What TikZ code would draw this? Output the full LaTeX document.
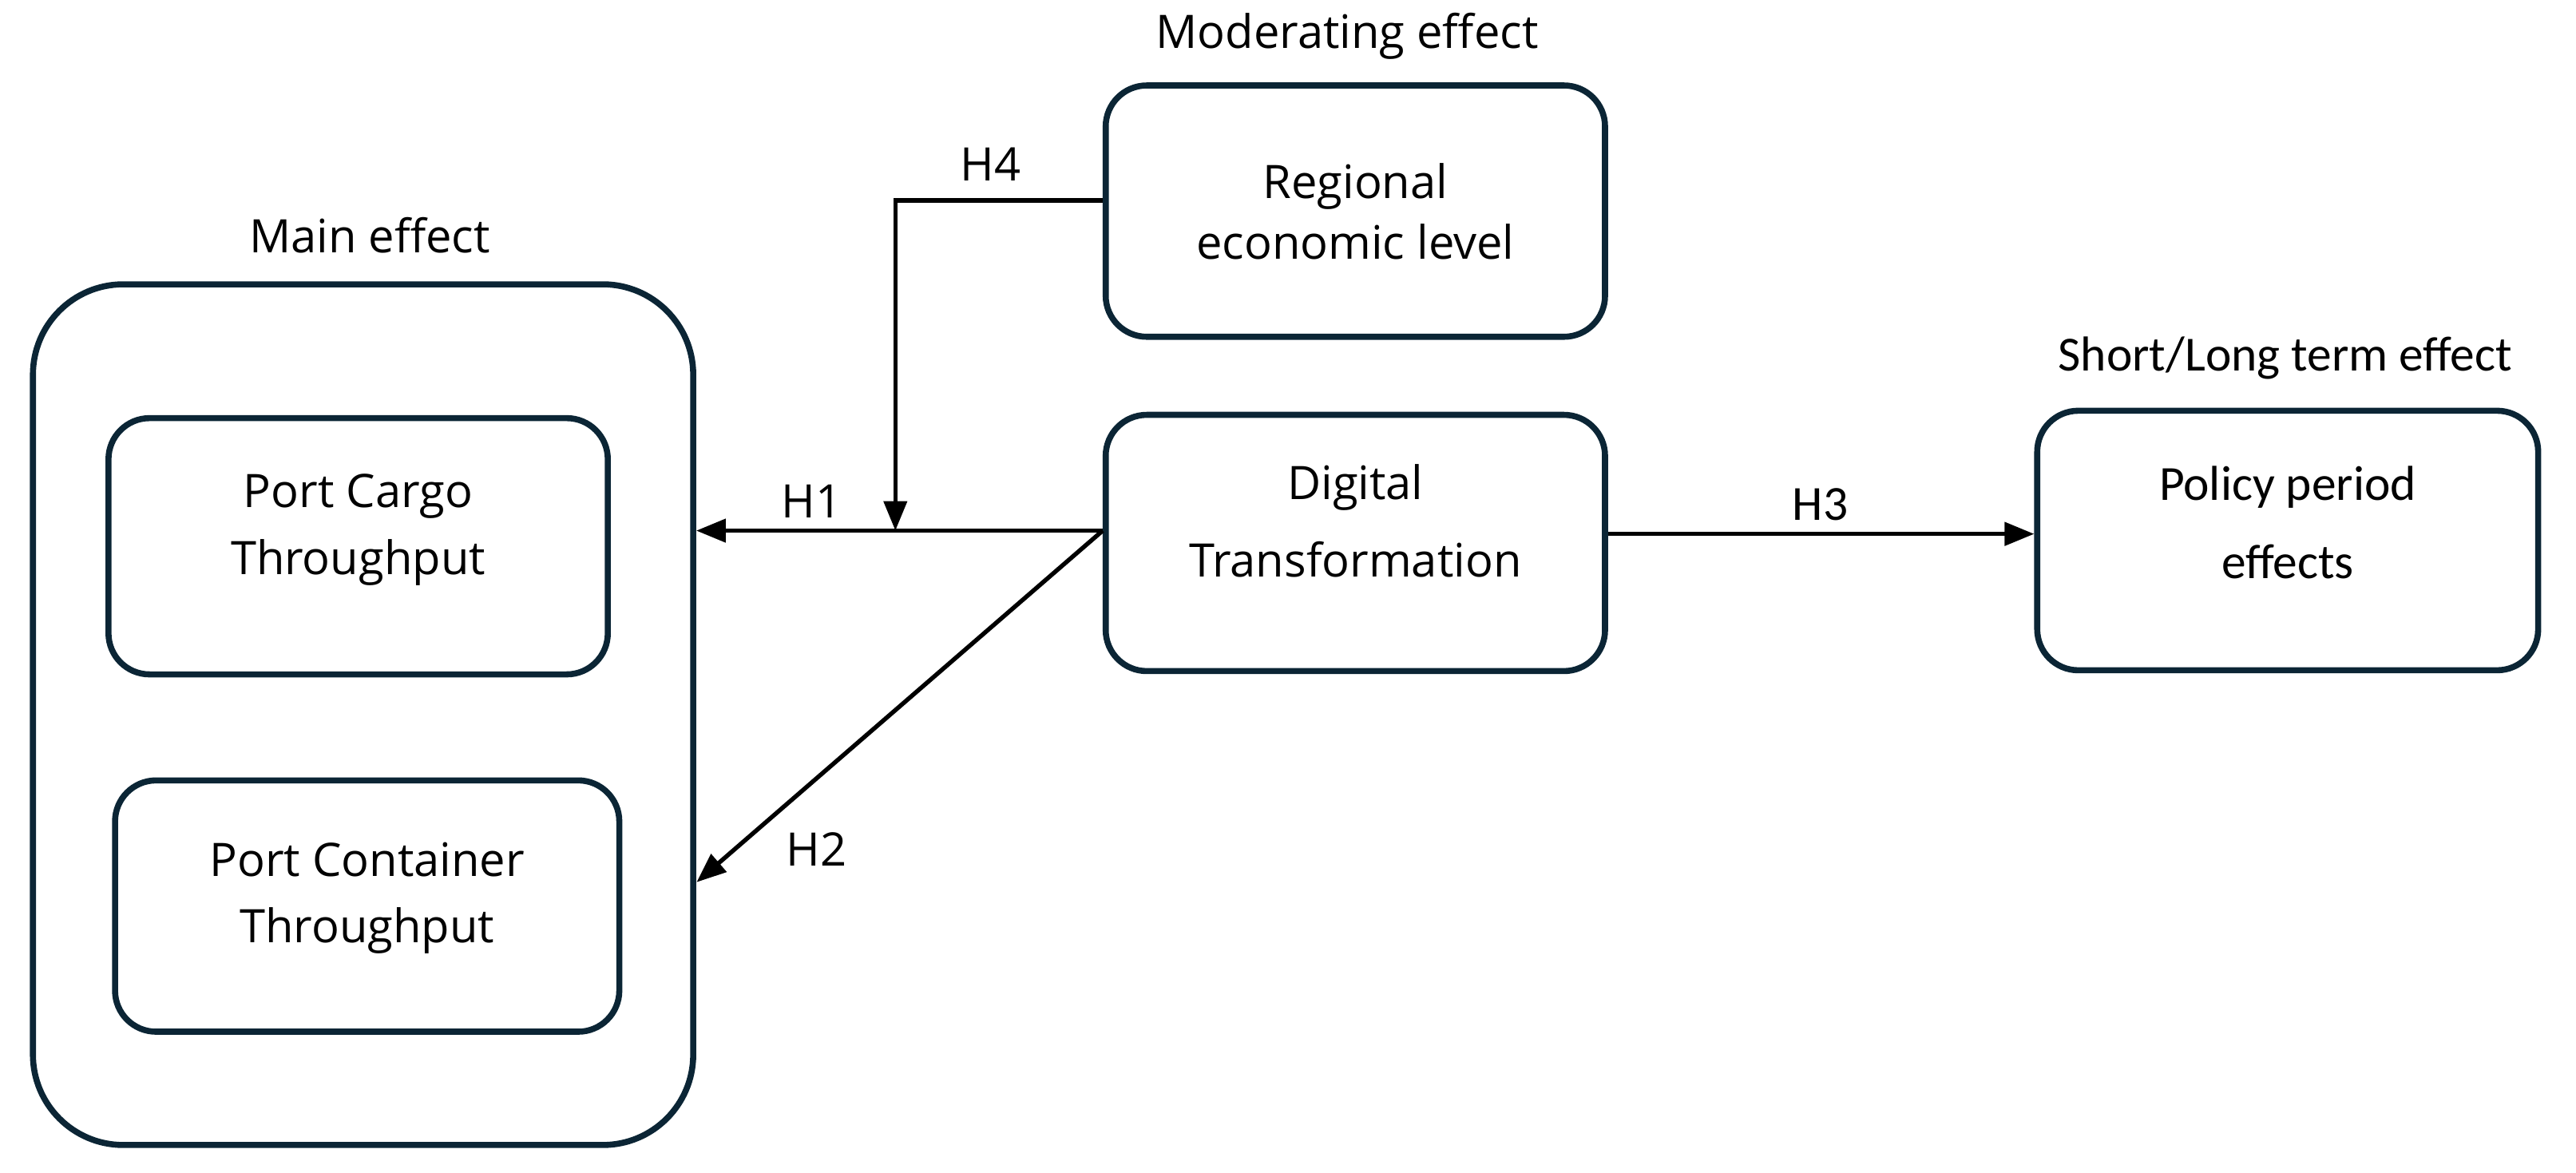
\documentclass[tikz,border=0pt]{standalone}
\usepackage{fontspec}
\setmainfont{Open Sans}
\newfontfamily\narrowfont{Carlito}
\usepackage{tikz}
\usetikzlibrary{positioning,arrows.meta}
\definecolor{boxline}{HTML}{0B2535}

\tikzset{
  box/.style={draw=boxline, line width=2.1pt, rounded corners=0.5cm, minimum width=6.08cm, minimum height=3.12cm},
  grp/.style={draw=boxline, line width=2.1pt, rounded corners=1.1cm, minimum width=8.04cm, minimum height=10.48cm},
  boxtext/.style={align=center, font=\fontsize{16}{23}\selectfont},
  efflbl/.style={font=\fontsize{16}{20}\selectfont},
  hyplbl/.style={font=\fontsize{16}{20}\selectfont},
  hyp/.style={-{Triangle[length=0.36cm,width=0.28cm]}, line width=1.5pt}
}

\begin{document}
\begin{tikzpicture}[x=0.02cm,y=-0.02cm]
\useasboundingbox (0,0) rectangle (1568,714);
% main effect group
\node[grp] (outer) at (221,435) {};
\node[box] (cargo) at (218,332.5) {};
\node[boxtext] (cargo-t) at ([yshift=0.2cm]cargo.center) {Port Cargo\\Throughput};
\node[box,minimum width=6.14cm,minimum height=3.06cm] (cont) at (223.5,551.5) {};
\node[boxtext] (cont-t) at ([yshift=0.1cm]cont.center) {Port Container\\Throughput};
\node[efflbl] (main-l) at (225,143) {Main effect};
% moderator
\node[box,minimum height=3.06cm] (reg) at (825,128.5) {};
\node[boxtext,font=\fontsize{16}{21}\selectfont] (reg-t) at (reg.center) {Regional\\economic level};
\node[efflbl] (mod-l) at (820,22) {Moderating effect};
% digital transformation
\node[box] (dt) at (825,330.5) {};
\node[boxtext,font=\fontsize{16}{27}\selectfont] (dt-t) at ([yshift=0.27cm]dt.center) {Digital\\Transformation};
% policy
\node[box,minimum width=6.1cm,minimum height=3.16cm] (pol) at (1392.5,329) {};
\node[boxtext,font=\narrowfont\fontsize{17}{27}\selectfont] (pol-t) at ([yshift=0.22cm]pol.center) {Policy period\\effects};
\node[efflbl,font=\narrowfont\fontsize{17}{20}\selectfont] (short-l) at (1391,218) {Short/Long term effect};

% hypotheses
\coordinate (dtw) at ([yshift=0.15cm]dt.west);
\coordinate (h2end) at (424,537);
\coordinate (h4x) at (545,0);
\coordinate (h4top) at ([yshift=0.13cm]reg.west);
\coordinate (dte) at ([yshift=0.11cm]dt.east);
\draw[hyp] (dtw) -- (dtw -| outer.east);
\draw[hyp] (dtw) -- (h2end);
\draw[hyp] (h4top) -- (h4top -| h4x) -- (h4x |- dtw);
\draw[hyp] (dte) -- (dte -| pol.west);
\node[hyplbl] (h1) at (494,305) {H1};
\node[hyplbl] (h2) at (497,517) {H2};
\node[hyplbl,font=\narrowfont\fontsize{17}{20}\selectfont] (h3) at (1108,307) {H3};
\node[hyplbl] (h4) at (603,100) {H4};
\end{tikzpicture}
\end{document}
